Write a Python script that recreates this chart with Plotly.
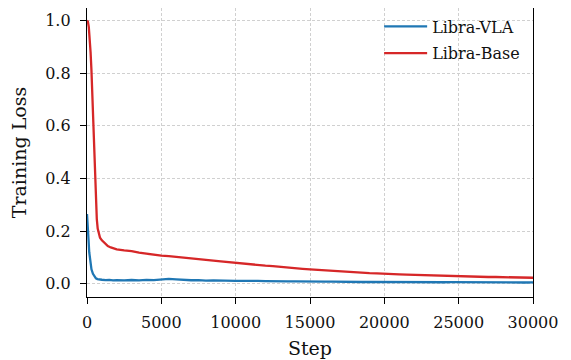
import plotly.graph_objects as go

# ---- data ----
steps_vla = [0, 50, 100, 150, 200, 250, 300, 400, 500, 600, 700, 850, 1000, 1250, 1500, 1750,
             2000, 2500, 3000, 3500, 4000, 4500, 5000, 5500, 6000, 6500, 7000, 7500, 8000,
             8500, 9000, 9500, 10000, 10500, 11000, 11500, 12000, 12500, 13000, 13500, 14000,
             14500, 15000, 15500, 16000, 16500, 17000, 17500, 18000, 18500, 19000, 19500,
             20000, 20500, 21000, 21500, 22000, 22500, 23000, 23500, 24000, 24500, 25000,
             25500, 26000, 26500, 27000, 27500, 28000, 28500, 29000, 29500, 30000]
loss_vla = [0.265, 0.23, 0.17, 0.12, 0.09, 0.07, 0.055, 0.038, 0.027, 0.021, 0.018, 0.016, 0.0155, 0.014, 0.015, 0.013,
            0.014, 0.013, 0.0145, 0.013, 0.015, 0.014, 0.016, 0.019, 0.017, 0.015, 0.0135, 0.014, 0.012,
            0.013, 0.0115, 0.012, 0.011, 0.0115, 0.010, 0.011, 0.0105, 0.0095, 0.010, 0.009, 0.0095,
            0.0085, 0.009, 0.0085, 0.008, 0.0085, 0.0075, 0.008, 0.0078, 0.007, 0.0076, 0.0072,
            0.0075, 0.007, 0.0068, 0.0072, 0.0065, 0.0068, 0.0062, 0.0066, 0.006, 0.0064, 0.006,
            0.0058, 0.0062, 0.0055, 0.0058, 0.0054, 0.0056, 0.0052, 0.0054, 0.005, 0.0052]

steps_base = [0, 60, 120, 180, 240, 300, 360, 420, 480, 540, 600, 660, 720, 800, 875, 1000,
              1200, 1400, 1600, 1800, 2000, 2500, 3000, 3500, 4000, 4500, 5000, 5500, 6000,
              6500, 7000, 7500, 8000, 8500, 9000, 9500, 10000, 10500, 11000, 11500, 12000,
              12500, 13000, 13500, 14000, 14500, 15000, 15500, 16000, 16500, 17000, 17500,
              18000, 18500, 19000, 19500, 20000, 20500, 21000, 21500, 22000, 22500, 23000,
              23500, 24000, 24500, 25000, 25500, 26000, 26500, 27000, 27500, 28000, 28500,
              29000, 29500, 30000]
loss_base = [1.0, 0.995, 0.975, 0.935, 0.88, 0.81, 0.72, 0.62, 0.5, 0.39, 0.3, 0.245, 0.21, 0.188, 0.175, 0.165,
             0.152, 0.143, 0.138, 0.134, 0.131, 0.127, 0.124, 0.118, 0.114, 0.111, 0.107, 0.105, 0.103,
             0.1, 0.097, 0.094, 0.09, 0.088, 0.085, 0.082, 0.08, 0.077, 0.074, 0.071, 0.069,
             0.067, 0.064, 0.061, 0.059, 0.057, 0.055, 0.053, 0.051, 0.049, 0.047, 0.046,
             0.044, 0.043, 0.041, 0.04, 0.038, 0.037, 0.036, 0.035, 0.034, 0.033, 0.032,
             0.031, 0.03, 0.03, 0.029, 0.028, 0.028, 0.027, 0.026, 0.026, 0.025, 0.025,
             0.024, 0.024, 0.023]

x_ticks = [0, 5000, 10000, 15000, 20000, 25000, 30000]
y_ticks = [0.0, 0.2, 0.4, 0.6, 0.8, 1.0]

FONT = "DejaVu Serif"
TXT = "#111111"

fig = go.Figure()
fig.add_trace(go.Scatter(x=steps_vla, y=loss_vla, mode="lines", name="Libra-VLA",
                         legendgroup="vla",
                         line=dict(color="#1f77b4", width=2.3)))
fig.add_trace(go.Scatter(x=steps_base, y=loss_base, mode="lines", name="Libra-Base",
                         legendgroup="base",
                         line=dict(color="#d62728", width=2.3)))

axis_common = dict(showline=True, linecolor="black", linewidth=1.3, mirror=True,
                   ticks="outside", ticklen=6, tickwidth=1.3, tickcolor="black",
                   showgrid=True, gridcolor="#d0d0d0", griddash="3px,2px", gridwidth=0.8,
                   zeroline=False, tickfont=dict(family=FONT, size=16, color=TXT))

fig.update_xaxes(range=[0, 30000], tickvals=x_ticks, ticktext=[str(v) for v in x_ticks],
                 ticklabelstandoff=5,
                 title=dict(text="Step", font=dict(family=FONT, size=19, color=TXT), standoff=10),
                 **axis_common)
fig.update_yaxes(range=[-0.05, 1.047], tickvals=y_ticks, ticktext=[f"{v:.1f}" for v in y_ticks],
                 ticklabelstandoff=6,
                 title=dict(text="Training Loss", font=dict(family=FONT, size=19, color=TXT), standoff=14),
                 **axis_common)

fig.update_layout(
    width=571, height=360,
    margin=dict(l=79, r=46, t=0, b=71),
    paper_bgcolor="white", plot_bgcolor="white",
    font=dict(family=FONT, size=16, color=TXT),
    showlegend=True,
    legend=dict(x=0.655, y=0.995, xanchor="left", yanchor="top", itemwidth=43,
                traceorder="grouped", tracegroupgap=3,
                bgcolor="rgba(0,0,0,0)", borderwidth=0,
                font=dict(family=FONT, size=16, color=TXT)),
)

fig.write_html("out.html")
